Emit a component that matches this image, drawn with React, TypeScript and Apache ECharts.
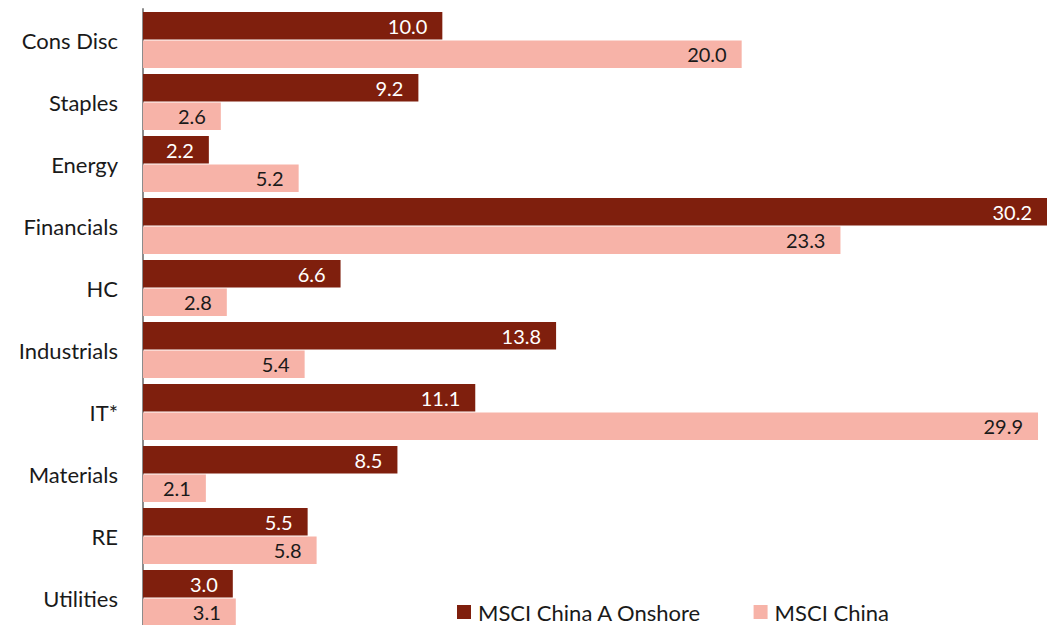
import React, { useEffect, useRef } from "react";
import * as echarts from "echarts";

const categories = ["Cons Disc", "Staples", "Energy", "Financials", "HC", "Industrials", "IT*", "Materials", "RE", "Utilities"];
const onshore = [10.0, 9.2, 2.2, 30.2, 6.6, 13.8, 11.1, 8.5, 5.5, 3.0];
const msciChina = [20.0, 2.6, 5.2, 23.3, 2.8, 5.4, 29.9, 2.1, 5.8, 3.1];
const seriesNames = ["MSCI China A Onshore", "MSCI China"];

const FONT = "Lato, 'Source Sans Pro', 'Noto Sans', sans-serif";

export default function App() {
  const ref = useRef<HTMLDivElement>(null);
  useEffect(() => {
    if (!ref.current) return;
    const chart = echarts.init(ref.current, null, { renderer: "svg" });
    chart.setOption({
      animation: false,
      textStyle: { fontFamily: FONT },
      grid: { left: 143, right: 0, top: 9, bottom: 1, containLabel: false },
      legend: {
        data: seriesNames,
        left: 452,
        top: 601,
        padding: [0, 5, 0, 5],
        itemWidth: 14,
        itemHeight: 14,
        itemGap: 52,
        icon: "rect",
        textStyle: { fontSize: 22, color: "#1a1a1a", fontFamily: FONT, padding: [0, 0, 0, 2] },
      },
      xAxis: {
        type: "value",
        min: 0,
        max: 30.2,
        show: false,
        splitLine: { show: false },
      },
      yAxis: {
        type: "category",
        data: categories,
        inverse: true,
        axisLine: { show: true, lineStyle: { color: "#8c8c8c", width: 2 } },
        axisTick: { show: false },
        axisLabel: { fontSize: 22, color: "#1a1a1a", margin: 25, fontFamily: FONT, padding: [0, 0, 3, 0] },
      },
      series: [
        {
          name: seriesNames[0],
          type: "bar",
          data: onshore,
          barCategoryGap: "10%",
          barGap: "4%",
          itemStyle: { color: "#7f1f0d" },
          label: {
            show: true,
            position: "insideRight",
            distance: 15,
            color: "#ffffff",
            fontSize: 20,
            fontFamily: FONT,
            formatter: (p: any) => Number(p.value).toFixed(1),
          },
        },
        {
          name: seriesNames[1],
          type: "bar",
          data: msciChina,
          barCategoryGap: "10%",
          barGap: "4%",
          itemStyle: { color: "#f7b3a8" },
          label: {
            show: true,
            position: "insideRight",
            distance: 15,
            color: "#1a1a1a",
            fontSize: 20,
            fontFamily: FONT,
            formatter: (p: any) => Number(p.value).toFixed(1),
          },
        },
      ],
    });
    return () => chart.dispose();
  }, []);
  return (
    <div
      ref={ref}
      style={{ position: "absolute", left: 0, top: 0, width: 1047, height: 630, background: "#fff" }}
    />
  );
}
